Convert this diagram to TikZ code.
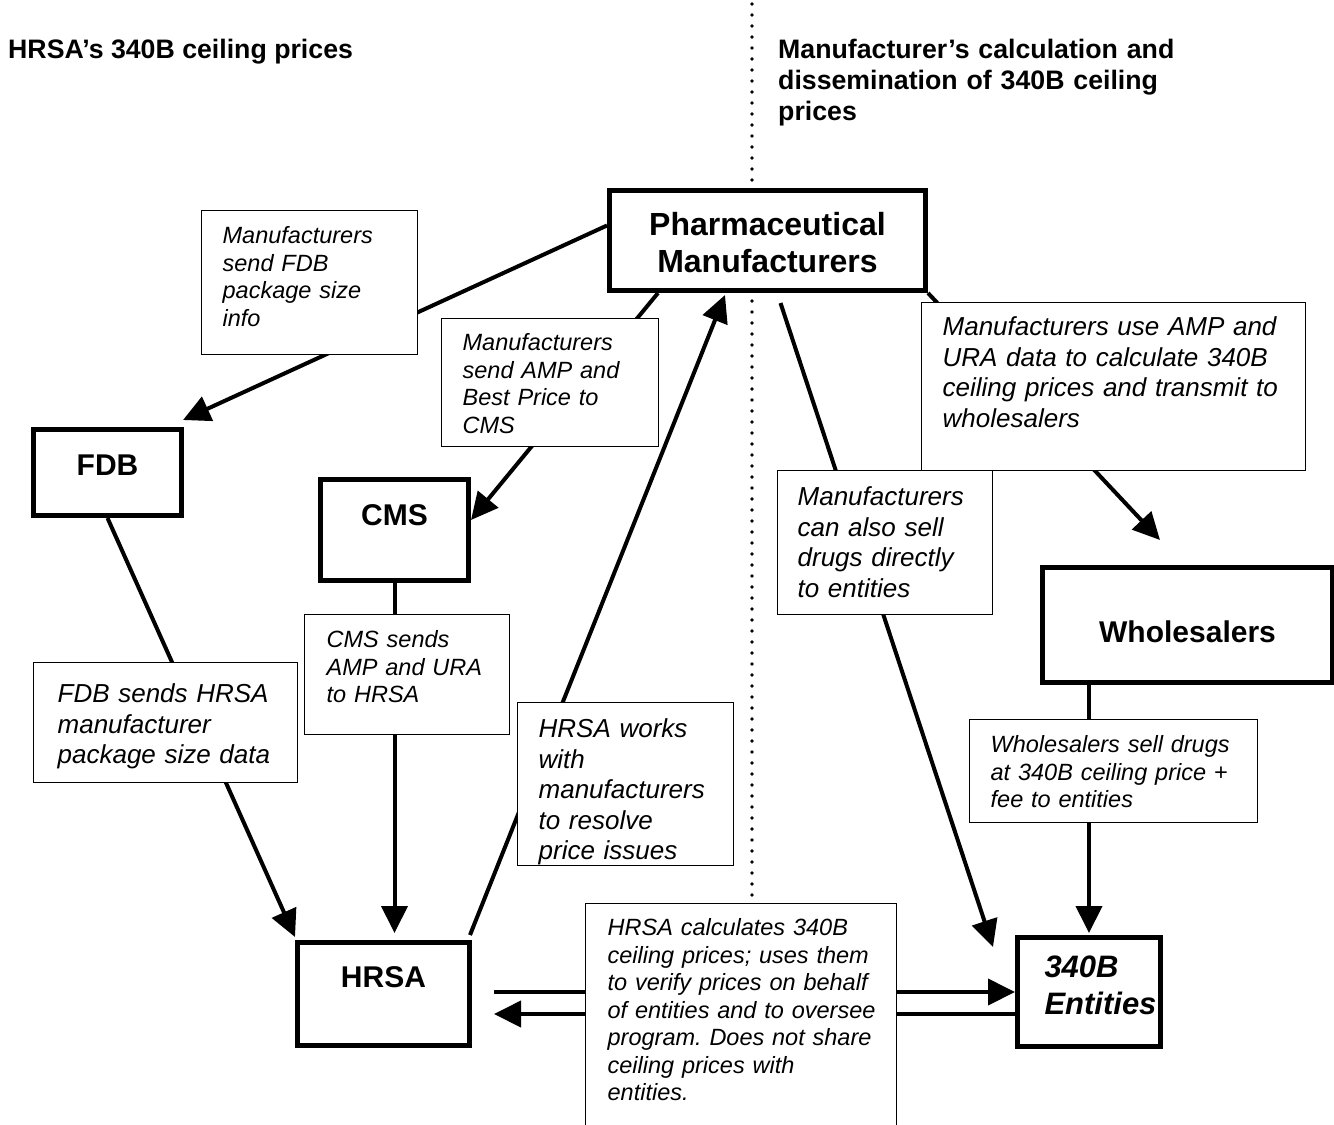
\documentclass[tikz,border=0pt]{standalone}
\usepackage{fontspec}
\setmainfont{Liberation Sans}
\usetikzlibrary{arrows.meta}
\usetikzlibrary{calc}
\hyphenpenalty=10000
\exhyphenpenalty=10000
\frenchspacing

\begin{document}
\begin{tikzpicture}[x=1pt,y=-1pt,
    org/.style={draw,fill=white,line width=5pt,anchor=north west,inner sep=0pt,
      align=center,font=\bfseries\fontsize{30}{36}\selectfont},
    lbl/.style={draw,fill=white,line width=1.3pt,anchor=north west,inner xsep=21pt,
      inner ysep=0pt,align=left,font=\itshape\fontsize{23.5}{27.5}\selectfont},
    lblbig/.style={lbl,font=\itshape\fontsize{26}{30.5}\selectfont},
    heading/.style={anchor=base west,inner sep=0pt,align=left,
      font=\bfseries\fontsize{26.7}{31}\selectfont},
    arr/.style={line width=4pt,-{Triangle[length=27pt,width=26pt]}},
    divider/.style={line width=3.6pt,line cap=round,dash pattern=on 0pt off 11pt}]

  \useasboundingbox (0,0) rectangle (1334,1125);
  \clip (0,0) rectangle (1334,1125);

  % dividing line between the two halves
  \draw[divider] (752,4) -- (752,1125);

  \node[heading] (lefthead) at (8,58) {HRSA’s 340B ceiling prices};
  \node[heading,text width=430pt] (righthead) at (778,58)
    {Manufacturer’s calculation and\\dissemination of 340B ceiling\\prices};

  % organisations
  \node[org,text width=316pt,text height=45pt,text depth=55pt,
        font=\bfseries\fontsize{32}{37}\selectfont] (pm) at (607,188)
    {Pharmaceutical\\Manufacturers};
  \node[org,text width=148pt,text height=46pt,text depth=40pt] (fdb) at (31,427) {FDB};
  \node[org,text width=148pt,text height=46pt,text depth=55pt] (cms) at (318,477) {CMS};
  \node[org,text width=290pt,text height=75pt,text depth=40pt] (whsl) at (1040,565) {Wholesalers};
  \node[org,text width=172pt,text height=45pt,text depth=58pt] (hrsa) at (295,940) {HRSA};
  \node[org,align=left,inner xsep=27pt,text width=89pt,text height=40pt,text depth=69pt,
        font=\bfseries\itshape\fontsize{31}{37}\selectfont] (ents) at (1015,935)
    {340B\\Entities};

  % flows
  \draw[arr] ($(pm.west)+(0,-15)$) -- ($(fdb.north east)+(-1,-7)$);
  \draw[arr] ($(pm.south west)+(51,0)$) -- ($(cms.north east)+(0,43)$);
  \draw[arr] ($(hrsa.north east)+(-2,-5)$) -- ($(pm.south west)+(118,2)$);
  \draw[arr] ($(pm.south)+(13,10)$) -- ($(ents.north west)+(-22,12)$);
  \draw[arr] (pm.south east) -- ($(whsl.north west)+(120,-25)$);
  \draw[arr] (fdb.south) -- ($(hrsa.north west)+(0,-3)$);
  \draw[arr] (cms.south) -- ($(cms.south |- hrsa.north)+(0,-7)$);
  \draw[arr] (ents.north |- whsl.south) -- ($(ents.north)+(0,-2)$);
  \draw[arr] ($(hrsa.east)+(22,-2)$) coordinate (h1) -- (h1 -| ents.west);
  \draw[arr] ($(ents.west)+(0,22)$) coordinate (e1) -- ($(e1 -| hrsa.east)+(22,0)$);

  % explanations
  \node[lbl,text width=174pt,text height=33pt,text depth=111pt] (sendfdb) at (201,210)
    {Manufacturers\\send FDB\\package size\\info};
  \node[lbl,text width=175pt,text height=32pt,text depth=96pt] (sendcms) at (441,318)
    {Manufacturers\\send AMP and\\Best Price to\\CMS};
  \node[lblbig,text width=342pt,text height=33pt,text depth=135pt] (calc) at (921,302)
    {Manufacturers use AMP and\\URA data to calculate 340B\\ceiling prices and transmit to\\wholesalers};
  \node[lblbig,inner xsep=20pt,text width=175pt,text height=35pt,text depth=109pt] (direct) at (777,470)
    {Manufacturers\\can also sell\\drugs directly\\to entities};
  \node[lblbig,inner xsep=24pt,text width=216pt,text height=40pt,text depth=80pt] (fdbinfo) at (33,662)
    {FDB sends HRSA\\manufacturer\\package size data};
  \node[lbl,inner xsep=22pt,text width=161pt,text height=33pt,text depth=87pt] (cmsinfo) at (304,614)
    {CMS sends\\AMP and URA\\to HRSA};
  \node[lblbig,text width=174pt,text height=35pt,text depth=128pt] (resolve) at (517,702)
    {HRSA works\\with\\manufacturers\\to resolve\\price issues};
  \node[lbl,text width=246pt,text height=33pt,text depth=70pt] (sell) at (969,719)
    {Wholesalers sell drugs\\at 340B ceiling price +\\fee to entities};
  \node[lbl,inner xsep=19pt,text width=273pt,text height=32pt,text depth=208pt] (oversee) at (585,903)
    {\hspace*{3pt}HRSA calculates 340B\\\hspace*{3pt}ceiling prices; uses them\\\hspace*{3pt}to verify prices on behalf\\\hspace*{3pt}of entities and to oversee\\\hspace*{3pt}program. Does not share\\\hspace*{3pt}ceiling prices with\\\hspace*{3pt}entities.};
\end{tikzpicture}
\end{document}
